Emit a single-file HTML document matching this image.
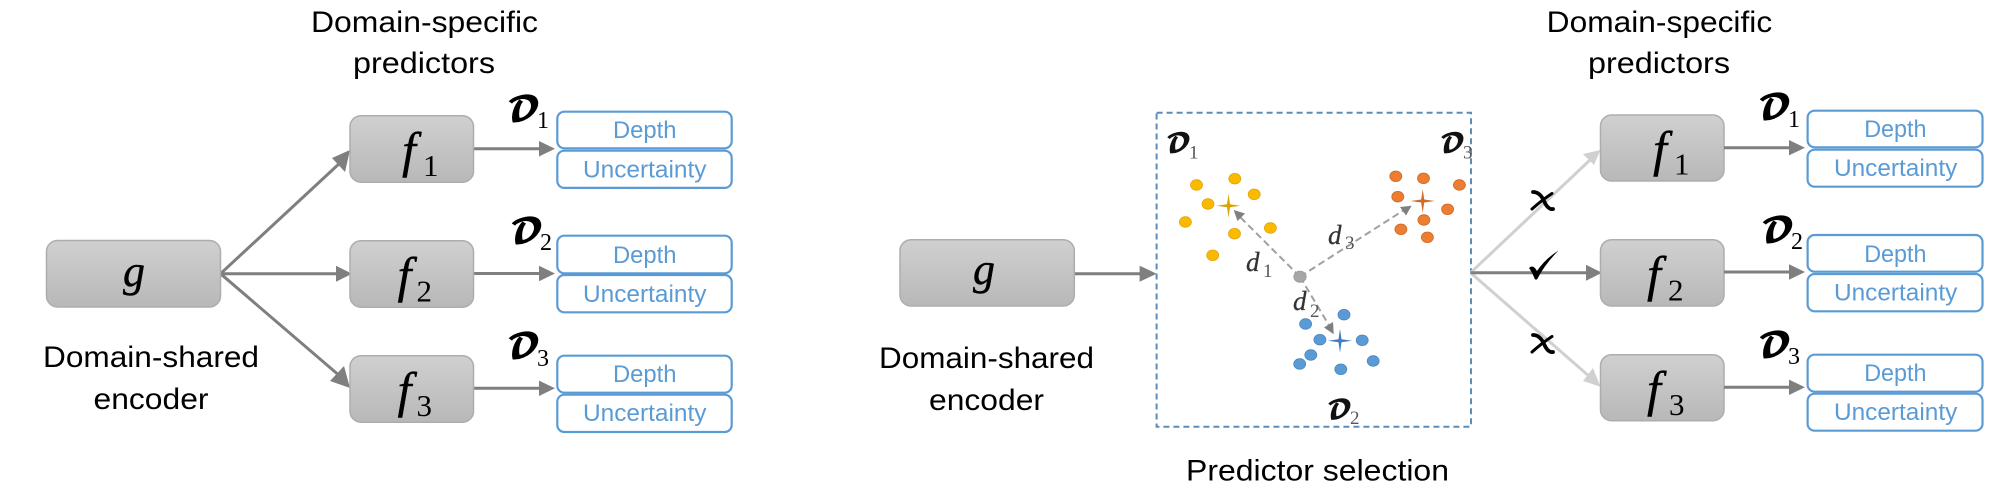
<!DOCTYPE html>
<html><head><meta charset="utf-8"><style>html,body{margin:0;padding:0;background:#fff}svg{display:block}
.l{font:30px "Liberation Sans",sans-serif;fill:#000}
.b{font:24px "Liberation Sans",sans-serif;fill:#5b9bd5}
.f{font:italic 50px "Liberation Serif",serif;fill:#000;stroke:#000;stroke-width:.4}
.g{font:italic 44px "Liberation Serif",serif;fill:#000;stroke:#000;stroke-width:.4}
.s{font:31px "Liberation Serif",serif;fill:#000}
.n{font:24px "Liberation Serif",serif;fill:#000}
.D{font:bold 32px "DejaVu Math TeX Gyre","DejaVu Serif","Liberation Serif",serif;fill:#000}
.D2{font:bold 24px "DejaVu Math TeX Gyre","DejaVu Serif","Liberation Serif",serif;fill:#111}
.s2{font:19px "Liberation Serif",serif;fill:#555}
.d{font:italic 27px "Liberation Serif",serif;fill:#333;stroke:#333;stroke-width:.3}
.box{fill:url(#gr);stroke:#adadad;stroke-width:1.5}
.bl{fill:#fff;stroke:#5b9bd5;stroke-width:2.2}
</style></head><body>
<svg width="2015" height="496" viewBox="0 0 2015 496" xmlns="http://www.w3.org/2000/svg">
<defs><linearGradient id="gr" x1="0" y1="0" x2="0" y2="1"><stop offset="0" stop-color="#d0d0d0"/><stop offset="1" stop-color="#b8b8b8"/></linearGradient></defs>
<rect width="2015" height="496" fill="#fff"/>

<!-- LEFT -->
<text class="l" x="311" y="32" textLength="227" lengthAdjust="spacingAndGlyphs">Domain-specific</text>
<text class="l" x="353" y="73" textLength="142" lengthAdjust="spacingAndGlyphs">predictors</text>
<text class="l" x="43" y="367" textLength="216" lengthAdjust="spacingAndGlyphs">Domain-shared</text>
<text class="l" x="93.5" y="409" textLength="115" lengthAdjust="spacingAndGlyphs">encoder</text>
<g stroke="#7f7f7f" stroke-width="3" fill="none">
<path d="M220.5 273.7L341 162"/><path d="M220.5 273.7H338"/><path d="M220.5 273.7L341 377"/>
<path d="M473.5 148.7H541"/><path d="M473.5 273.5H541"/><path d="M473.5 388.3H541"/>
</g>
<g fill="#7f7f7f" stroke="none">
<path d="M350 150L345 172L332 158Z"/>
<path d="M352 273.7L336 265.7V281.7Z"/>
<path d="M350 388L330 381L344 366Z"/>
<path d="M555 148.7L539 141V156.5Z"/><path d="M555 273.5L539 265.8V281.3Z"/><path d="M555 388.3L539 380.6V396Z"/>
</g>
<rect class="box" x="46.5" y="240.5" width="174" height="66.5" rx="11"/>
<rect class="box" x="350" y="115.7" width="123.5" height="66.5" rx="11"/>
<rect class="box" x="350" y="240.7" width="123.5" height="66.5" rx="11"/>
<rect class="box" x="350" y="355.7" width="123.5" height="66.5" rx="11"/>
<text class="g" x="123" y="286">g</text>
<text class="f" x="402" y="167">f</text><text class="s" x="423" y="176">1</text>
<text class="f" x="397.5" y="292">f</text><text class="s" x="416.5" y="301.5">2</text>
<text class="f" x="397.5" y="407">f</text><text class="s" x="416.5" y="416">3</text>
<rect class="bl" x="557.3" y="111.7" width="174.4" height="36.6" rx="7"/>
<rect class="bl" x="557.3" y="150.7" width="174.4" height="37.2" rx="7"/>
<rect class="bl" x="557.3" y="235.7" width="174.4" height="37.6" rx="7"/>
<rect class="bl" x="557.3" y="275" width="174.4" height="37.3" rx="7"/>
<rect class="bl" x="557.3" y="355.7" width="174.4" height="37" rx="7"/>
<rect class="bl" x="557.3" y="394.7" width="174.4" height="37.3" rx="7"/>
<text class="b" x="613" y="138" textLength="63.5" lengthAdjust="spacingAndGlyphs">Depth</text>
<text class="b" x="583" y="177.5" textLength="123.5" lengthAdjust="spacingAndGlyphs">Uncertainty</text>
<text class="b" x="613" y="263" textLength="63.5" lengthAdjust="spacingAndGlyphs">Depth</text>
<text class="b" x="583" y="302" textLength="123.5" lengthAdjust="spacingAndGlyphs">Uncertainty</text>
<text class="b" x="613" y="382" textLength="63.5" lengthAdjust="spacingAndGlyphs">Depth</text>
<text class="b" x="583" y="421" textLength="123.5" lengthAdjust="spacingAndGlyphs">Uncertainty</text>
<text class="D" x="507" y="120">𝓓</text><text class="n" x="537" y="128">1</text>
<text class="D" x="510" y="242">𝓓</text><text class="n" x="540" y="250">2</text>
<text class="D" x="507" y="357">𝓓</text><text class="n" x="537" y="366">3</text>

<!-- MIDDLE -->
<path d="M1074.3 273.7H1141" stroke="#7f7f7f" stroke-width="3" fill="none"/>
<path d="M1156.6 273.7L1139.6 265.7V281.7Z" fill="#7f7f7f"/>
<rect class="box" x="900" y="239.7" width="174.3" height="66.3" rx="11"/>
<text class="g" x="973" y="284">g</text>
<text class="l" x="879" y="368" textLength="215" lengthAdjust="spacingAndGlyphs">Domain-shared</text>
<text class="l" x="929" y="410" textLength="115" lengthAdjust="spacingAndGlyphs">encoder</text>
<text class="l" x="1186" y="480.5" textLength="263" lengthAdjust="spacingAndGlyphs">Predictor selection</text>
<rect x="1156.6" y="112.7" width="314.4" height="314" fill="none" stroke="#5b8db8" stroke-width="2" stroke-dasharray="6 4"/>
<g fill="#fbb900" stroke="#e0a510" stroke-width=".8">
<ellipse cx="1196.5" cy="185" rx="6" ry="5.3"/><ellipse cx="1234.8" cy="178.7" rx="6" ry="5.3"/><ellipse cx="1254.2" cy="194.3" rx="6" ry="5.3"/><ellipse cx="1208" cy="204" rx="6" ry="5.3"/><ellipse cx="1185.4" cy="222" rx="6" ry="5.3"/><ellipse cx="1234.5" cy="233.7" rx="6" ry="5.3"/><ellipse cx="1270.4" cy="228" rx="6" ry="5.3"/><ellipse cx="1212.7" cy="255.3" rx="6" ry="5.3"/>
</g>
<g fill="#ed7d31" stroke="#c96a28" stroke-width=".8">
<ellipse cx="1395.8" cy="176.3" rx="6" ry="5.3"/><ellipse cx="1423.5" cy="178.3" rx="6" ry="5.3"/><ellipse cx="1459.4" cy="185" rx="6" ry="5.3"/><ellipse cx="1397.8" cy="196.7" rx="6" ry="5.3"/><ellipse cx="1447.6" cy="209.3" rx="6" ry="5.3"/><ellipse cx="1423.9" cy="220" rx="6" ry="5.3"/><ellipse cx="1400.9" cy="229.3" rx="6" ry="5.3"/><ellipse cx="1427.4" cy="237.3" rx="6" ry="5.3"/>
</g>
<g fill="#5b9bd5" stroke="#4b86bd" stroke-width=".8">
<ellipse cx="1344" cy="314.7" rx="6" ry="5.3"/><ellipse cx="1305.6" cy="324" rx="6" ry="5.3"/><ellipse cx="1319.9" cy="339.7" rx="6" ry="5.3"/><ellipse cx="1362.2" cy="340.3" rx="6" ry="5.3"/><ellipse cx="1310.8" cy="355" rx="6" ry="5.3"/><ellipse cx="1299.7" cy="364" rx="6" ry="5.3"/><ellipse cx="1373.2" cy="361" rx="6" ry="5.3"/><ellipse cx="1340.8" cy="369.3" rx="6" ry="5.3"/>
</g>
<path transform="translate(1228.5 205.7)" fill="#d9a400" d="M0 -12L1.5 -1.5L12 0L1.5 1.5L0 12L-1.5 1.5L-12 0L-1.5 -1.5Z"/>
<path transform="translate(1422.7 201)" fill="#d0692a" d="M0 -12L1.5 -1.5L12 0L1.5 1.5L0 12L-1.5 1.5L-12 0L-1.5 -1.5Z"/>
<path transform="translate(1340 340.7)" fill="#3f7fbd" d="M0 -12L1.5 -1.5L12 0L1.5 1.5L0 12L-1.5 1.5L-12 0L-1.5 -1.5Z"/>
<g stroke="#a0a0a0" stroke-width="2" stroke-dasharray="7 4" fill="none">
<path d="M1300 276.7L1239 216"/><path d="M1300 276.7L1404 210"/><path d="M1300 276.7L1330 327"/>
</g>
<g fill="#7f7f7f">
<path d="M1233.7 210L1245 213.5L1237.5 221Z"/>
<path d="M1411.6 205.7L1406 215.5L1400 207Z"/>
<path d="M1333.7 334.3L1324 327.5L1333 322Z"/>
</g>
<ellipse cx="1300" cy="276.7" rx="6.2" ry="5.6" fill="#a6a6a6" stroke="#999" stroke-width=".8"/>
<text class="d" x="1246" y="271">d</text><text class="s2" x="1263" y="277">1</text>
<text class="d" x="1293" y="310">d</text><text class="s2" x="1310" y="317">2</text>
<text class="d" x="1328" y="244">d</text><text class="s2" x="1345" y="249">3</text>
<text class="D2" x="1166" y="151.7">𝓓</text><text class="s2" x="1189" y="158.5">1</text>
<text class="D2" x="1440" y="151.7">𝓓</text><text class="s2" x="1463" y="158.5">3</text>
<text class="D2" x="1327" y="418">𝓓</text><text class="s2" x="1350" y="424">2</text>

<!-- RIGHT -->
<text class="l" x="1546.7" y="32" textLength="225.5" lengthAdjust="spacingAndGlyphs">Domain-specific</text>
<text class="l" x="1588" y="73" textLength="142" lengthAdjust="spacingAndGlyphs">predictors</text>
<g stroke="#d0d0d0" stroke-width="3" fill="none"><path d="M1470.6 272.7L1590 160"/><path d="M1470.6 272.7L1590 377"/></g>
<path d="M1470.6 272.7H1588" stroke="#7f7f7f" stroke-width="3" fill="none"/>
<path d="M1600.5 150L1594 165L1583 154Z" fill="#d0d0d0"/>
<path d="M1600.5 386.7L1583 381L1593 368Z" fill="#d0d0d0"/>
<path d="M1602 272.7L1586 264.7V280.7Z" fill="#7f7f7f"/>
<rect class="box" x="1600.5" y="115" width="123.5" height="66" rx="11"/>
<rect class="box" x="1600.5" y="239.7" width="123.5" height="66.3" rx="11"/>
<rect class="box" x="1600.5" y="354.7" width="123.5" height="66" rx="11"/>
<text class="f" x="1653" y="166">f</text><text class="s" x="1674" y="174.5">1</text>
<text class="f" x="1647" y="291">f</text><text class="s" x="1668" y="300.7">2</text>
<text class="f" x="1647" y="406">f</text><text class="s" x="1669" y="415">3</text>
<g stroke="#7f7f7f" stroke-width="3" fill="none"><path d="M1724 147.7H1791"/><path d="M1724 272H1791"/><path d="M1724 387.3H1791"/></g>
<g fill="#7f7f7f"><path d="M1805 147.7L1789 140V155.4Z"/><path d="M1805 272L1789 264.3V279.7Z"/><path d="M1805 387.3L1789 379.6V395Z"/></g>
<rect class="bl" x="1807.6" y="110.7" width="174.9" height="36.6" rx="7"/>
<rect class="bl" x="1807.6" y="149.7" width="174.9" height="37" rx="7"/>
<rect class="bl" x="1807.6" y="235" width="174.9" height="36.7" rx="7"/>
<rect class="bl" x="1807.6" y="274" width="174.9" height="37.3" rx="7"/>
<rect class="bl" x="1807.6" y="354.7" width="174.9" height="37" rx="7"/>
<rect class="bl" x="1807.6" y="393.7" width="174.9" height="37" rx="7"/>
<text class="b" x="1864.2" y="137" textLength="62.3" lengthAdjust="spacingAndGlyphs">Depth</text>
<text class="b" x="1834" y="176" textLength="123.3" lengthAdjust="spacingAndGlyphs">Uncertainty</text>
<text class="b" x="1864.2" y="262" textLength="62.3" lengthAdjust="spacingAndGlyphs">Depth</text>
<text class="b" x="1834" y="300.5" textLength="123.3" lengthAdjust="spacingAndGlyphs">Uncertainty</text>
<text class="b" x="1864.2" y="381" textLength="62.3" lengthAdjust="spacingAndGlyphs">Depth</text>
<text class="b" x="1834" y="420" textLength="123.3" lengthAdjust="spacingAndGlyphs">Uncertainty</text>
<text class="D" x="1758" y="118">𝓓</text><text class="n" x="1788" y="127">1</text>
<text class="D" x="1761" y="241">𝓓</text><text class="n" x="1791" y="249">2</text>
<text class="D" x="1758" y="356">𝓓</text><text class="n" x="1788" y="364">3</text>
<g stroke="#000" fill="none" stroke-linecap="round">
<path d="M1533 192Q1540 192 1544 201T1553 209" stroke-width="3.8"/>
<path d="M1552 193.5Q1542 200 1532 209" stroke-width="3"/>
<path d="M1533 335Q1540 335 1544 344T1553 352" stroke-width="3.8"/>
<path d="M1552 336.5Q1542 343 1532 352" stroke-width="3"/>
</g>
<path d="M1529 268Q1533 264 1537 271Q1545 259 1558.5 250.5Q1545 264 1537 279.5L1535 279.5Q1532 272 1529 268Z" fill="#000"/>
</svg>
</body></html>
